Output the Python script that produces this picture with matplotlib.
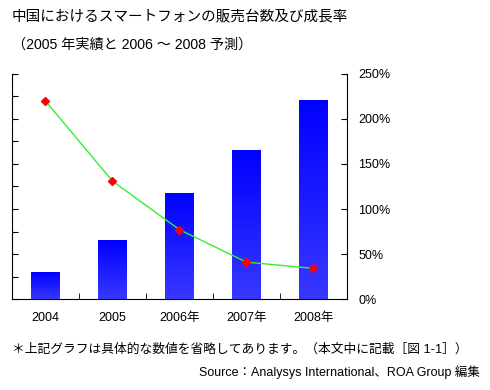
import matplotlib
matplotlib.use('Agg')
from matplotlib import pyplot as plt
from matplotlib.colors import LinearSegmentedColormap
import numpy as np

plt.rcParams['font.family'] = ['Liberation Sans', 'Noto Sans CJK JP']

# データ
years = ['2004', '2005', '2006年', '2007年', '2008年']
sales = [1.17, 2.62, 4.67, 6.58, 8.8]          # 販売台数 (目盛なし)
growth = [220, 131, 77, 41, 34]                 # 成長率 %
pct_ticks = [0, 50, 100, 150, 200, 250]

fig = plt.figure(figsize=(4.9, 3.9), dpi=100)
ax = fig.add_axes([0.0245, 0.2333, 0.6835, 0.577])
ax2 = ax.twinx()

x = np.arange(len(years))
w = 0.42
cmap = LinearSegmentedColormap.from_list('bl', ['#3838ff', '#0000ff'])
grad = np.linspace(0, 1, 100).reshape(-1, 1)
bars = ax.bar(x, sales, width=w, color='none')
for b in bars:
    x0, y0 = b.get_x(), b.get_y()
    ax.imshow(grad, cmap=cmap, origin='lower', aspect='auto',
              extent=[x0, x0 + b.get_width(), y0, y0 + b.get_height()], zorder=2)

ax.set_xlim(-0.5, len(years) - 0.5)
ax.set_ylim(0, 10)
ax.set_yticks(range(11))
ax.set_yticklabels([])
ax.set_xticks(x)
ax.set_xticklabels(years, fontsize=9)
ax.set_xticks(x[:-1] + 0.5, minor=True)
ax.tick_params(axis='x', which='major', length=0, pad=9)
ax.tick_params(axis='x', which='minor', direction='in', length=4)
ax.tick_params(axis='y', direction='in', length=4)
for s in ['top', 'right']:
    ax.spines[s].set_visible(False)

ax2.plot(x, growth, color='#33ee33', lw=1, marker='D', ms=4.5,
         mfc='red', mec='red', zorder=3)
ax2.set_ylim(0, 250)
ax2.set_yticks(pct_ticks)
ax2.set_yticklabels([f'{v}%' for v in pct_ticks], fontsize=9)
ax2.tick_params(axis='y', direction='in', length=4, pad=8)
for s in ['top', 'left', 'bottom']:
    ax2.spines[s].set_visible(False)
ax2.set_zorder(ax.get_zorder() + 1)

fig.text(0.0245, 0.955, '中国におけるスマートフォンの販売台数及び成長率', fontsize=10.5, va='center')
fig.text(0.0245, 0.885, '（2005 年実績と 2006 〜 2008 予測）', fontsize=10.2, va='center')
fig.text(0.0245, 0.103, '＊上記グラフは具体的な数値を省略してあります。（本文中に記載［図 1-1］）',
         fontsize=9.2, va='center')
fig.text(0.98, 0.045, 'Source：Analysys International、ROA Group 編集',
         fontsize=9, va='center', ha='right')

fig.savefig('out.png', dpi=100)
